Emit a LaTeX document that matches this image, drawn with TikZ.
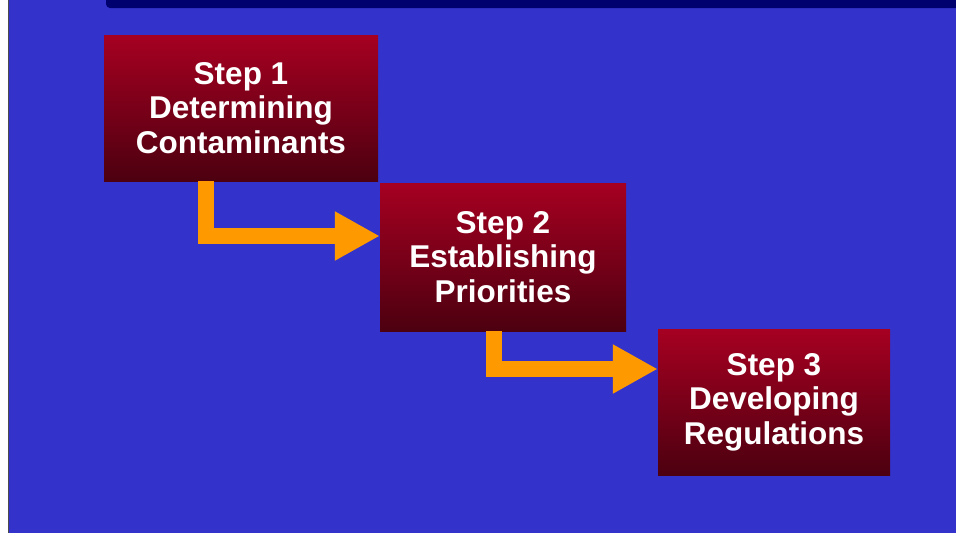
\documentclass[tikz,border=0pt]{standalone}
\usepackage{fontspec}
\setmainfont{Liberation Sans}
\usepackage{xcolor}
\usetikzlibrary{arrows.meta}
\definecolor{slideblue}{RGB}{51,51,204}
\definecolor{barnavy}{RGB}{0,0,110}
\definecolor{boxtop}{RGB}{166,0,33}
\definecolor{boxbottom}{RGB}{76,0,16}
\definecolor{flowgold}{RGB}{255,153,0}

\begin{document}
\begin{tikzpicture}[x=1pt,y=-1pt,
  stepbox/.style={rectangle, inner sep=0pt, top color=boxtop, bottom color=boxbottom,
    text=white, align=center, font=\fontsize{31.5}{34.5}\selectfont\bfseries},
  flow/.style={flowgold, line width=16pt, line join=miter,
    -{Triangle[length=45pt,width=46pt]}}]
  \useasboundingbox (0,0) rectangle (956,533);
  \fill[white] (0,0) rectangle (956,533);
  \fill[slideblue] (9,0) rectangle (956,533);
  \draw[black!70, line width=1.5pt] (8.5,0) -- (8.5,533);
  \fill[barnavy, rounded corners=4pt] (106,-6) rectangle (960,8);
  \node[stepbox, minimum width=274pt, minimum height=146pt] (step1) at (241,108)
    {Step 1\\Determining\\Contaminants};
  \node[stepbox, minimum width=246pt, minimum height=148pt] (step2) at (503,257)
    {Step 2\\Establishing\\Priorities};
  \node[stepbox, minimum width=232pt, minimum height=146pt] (step3) at (774,402)
    {Step 3\\Developing\\Regulations};
  \draw[flow] ([xshift=102pt]step1.south west) |- ([yshift=21pt]step2.west);
  \draw[flow] ([xshift=114pt]step2.south west) |- ([yshift=33pt]step3.west);
\end{tikzpicture}
\end{document}
